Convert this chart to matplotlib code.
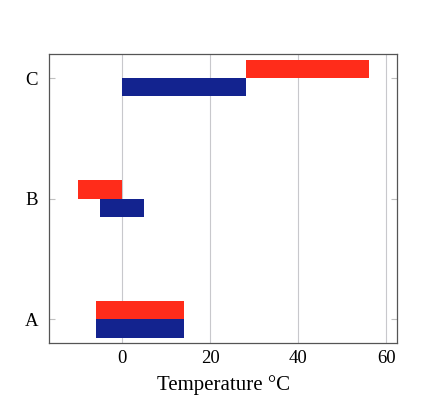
import matplotlib
matplotlib.use('Agg')
import matplotlib.pyplot as plt
import numpy as np

# Данные
categories = ['A', 'B', 'C']
blue_start = [-6, -5, 0]
blue_end = [14, 5, 28]
red_start = [-6, -10, 28]
red_end = [14, 0, 56]

plt.rcParams['font.family'] = ['Liberation Serif', 'DejaVu Serif']

fig = plt.figure(figsize=(4.39, 4.09), dpi=100)
ax = fig.add_axes([0.1123, 0.1606, 0.7927, 0.7074])

y = np.arange(len(categories))
h = 0.152
blue_w = np.array(blue_end) - np.array(blue_start)
red_w = np.array(red_end) - np.array(red_start)
ax.barh(y - h / 2, blue_w, height=h, left=blue_start, color='#13238f', zorder=3)
ax.barh(y + h / 2, red_w, height=h, left=red_start, color='#ff2c1a', zorder=3)

ax.set_xlim(-16.6, 62.5)
ax.set_ylim(-0.2, 2.2)
ax.set_yticks(y)
ax.set_yticklabels(categories)
ax.set_xticks([0, 20, 40, 60])
ax.grid(axis='x', color='#c8c8cc', linewidth=0.8, zorder=0)
ax.tick_params(axis='y', direction='in', left=True, right=True, length=4,
               color='#c0c0c0', labelsize=13.5, pad=8)
ax.tick_params(axis='x', length=0, labelsize=13.5, pad=5)
for s in ax.spines.values():
    s.set_color('#555555')
    s.set_linewidth(0.9)
ax.set_xlabel('Temperature °C', fontsize=15, labelpad=6)

fig.savefig('out.png', dpi=100)
